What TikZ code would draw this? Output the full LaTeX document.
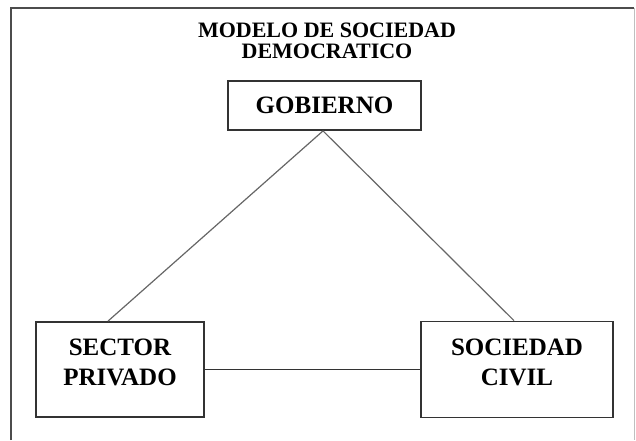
\documentclass[tikz,border=0pt]{standalone}
\usepackage{fontspec}
\setmainfont{Liberation Serif}
\usetikzlibrary{calc}
\tikzset{caja/.style={draw=black!80, line width=1.8pt, inner sep=0pt, minimum width=168pt, minimum height=95pt},
 texto/.style={font=\bfseries\fontsize{25}{30}\selectfont, align=center, inner sep=0pt},
 lado/.style={draw=black!60, line width=1.2pt}}

\begin{document}
\begin{tikzpicture} [x=1pt,y=-1pt]
\useasboundingbox (0,0) rectangle (636,440);
\draw[black!70, line width=2pt] (11,440)--(11,8)--(634,8);
\draw[black!25, line width=1pt] (634,8)--(634,440);
\node[texto, font=\bfseries\fontsize{22}{21}\selectfont, anchor=north] (titulo) at (327,23) {MODELO DE SOCIEDAD\\DEMOCRATICO};
\node[caja, minimum width=193pt, minimum height=49pt, texto] (gobierno) at (324.5,105.5) {GOBIERNO};
\node[caja] (sector) at (120,369.5) {};
\node[caja, minimum width=192pt, minimum height=96pt] (sociedad) at (517,369.5) {};
\node[texto] (sectorT) at ([yshift=7pt]sector.center) {SECTOR\\PRIVADO};
\node[texto] (sociedadT) at ([yshift=7pt]sociedad.center) {SOCIEDAD\\CIVIL};
\draw[lado] ([xshift=-1.5pt]gobierno.south)--([xshift=-12pt]sector.north);
\draw[lado] ([xshift=-1.5pt]gobierno.south)--([xshift=-3pt]sociedad.north);
\draw[black!80, line width=1.6pt] (sector.east)--(sociedad.west);
\end{tikzpicture}
\end{document}
